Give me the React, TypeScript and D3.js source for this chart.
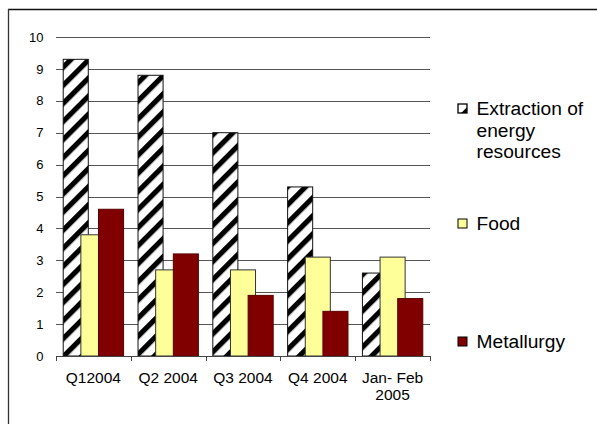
import React from "react";
import * as d3 from "d3";

// Chart data
const categories = ["Q12004", "Q2 2004", "Q3 2004", "Q4 2004", "Jan- Feb\n2005"];
const seriesNames = ["Extraction of\nenergy\nresources", "Food", "Metallurgy"];
const extraction = [9.3, 8.8, 7.0, 5.3, 2.6];
const food = [3.8, 2.7, 2.7, 3.1, 3.1];
const metallurgy = [4.6, 3.2, 1.9, 1.4, 1.8];
const yTicks = [0, 1, 2, 3, 4, 5, 6, 7, 8, 9, 10];

const W = 597;
const H = 424;
const plot = { left: 56, right: 430, top: 37, bottom: 356 };
const FONT = "'Liberation Sans', Arial, sans-serif";

const yellow = "#FFFF99";
const darkRed = "#800000";

export default function App() {
  const x = d3
    .scaleBand<string>()
    .domain(categories)
    .range([plot.left, plot.right])
    .paddingInner(0)
    .paddingOuter(0);
  const y = d3.scaleLinear().domain([0, 10]).range([plot.bottom, plot.top]);

  const bw = x.bandwidth();
  const barW = bw * 0.335;
  const step = bw * 0.236;
  const groupW = barW + 2 * step;

  const series = [
    { values: extraction, fill: "url(#hatch)", stroke: "#111" },
    { values: food, fill: yellow, stroke: "#333" },
    { values: metallurgy, fill: darkRed, stroke: "#5a0000" },
  ];

  const legendRows = [
    { baseline: 115, fill: "hatch" },
    { baseline: 230, fill: yellow },
    { baseline: 348, fill: darkRed },
  ];

  return (
    <svg
      width={W}
      height={H}
      style={{ position: "absolute", left: 0, top: 0, background: "#fff" }}
      fontFamily={FONT}
    >
      <defs>
        <pattern
          id="hatch"
          patternUnits="userSpaceOnUse"
          width={12.8}
          height={12.8}
          patternTransform="rotate(45)"
        >
          <rect width={12.8} height={12.8} fill="#fff" />
          <rect width={5.2} height={12.8} fill="#000" />
        </pattern>
      </defs>

      {/* outer frame */}
      <line x1={8} y1={9.5} x2={W} y2={9.5} stroke="#111" strokeWidth={1.5} />
      <line x1={8.5} y1={9} x2={8.5} y2={H} stroke="#333" strokeWidth={1.3} />

      {/* gridlines */}
      {yTicks
        .filter((t) => t > 0)
        .map((t) => (
          <line
            key={"g" + t}
            x1={plot.left}
            x2={plot.right}
            y1={Math.round(y(t)) + 0.5}
            y2={Math.round(y(t)) + 0.5}
            stroke="#555"
            strokeWidth={1}
          />
        ))}

      {/* y tick labels */}
      {yTicks.map((t) => (
        <text
          key={"yl" + t}
          x={43.5}
          y={y(t) + 4.6}
          textAnchor="end"
          fontSize={13}
          fill="#000"
        >
          {t}
        </text>
      ))}

      {/* bars */}
      {series.map((s, si) =>
        categories.map((c, ci) => {
          const cx = (x(c) as number) + bw / 2;
          const bx = cx - groupW / 2 + si * step;
          const top = y(s.values[ci]);
          return (
            <rect
              key={`b${si}-${ci}`}
              x={bx}
              y={top}
              width={barW}
              height={y(0) - top}
              fill={s.fill}
              stroke={s.stroke}
              strokeWidth={1}
            />
          );
        })
      )}

      {/* x axis */}
      <line
        x1={plot.left}
        x2={plot.right}
        y1={plot.bottom + 0.5}
        y2={plot.bottom + 0.5}
        stroke="#444"
        strokeWidth={1}
      />
      {[...categories.map((c) => x(c) as number), plot.right].map((px, i) => (
        <line
          key={"t" + i}
          x1={Math.round(px) + 0.5}
          x2={Math.round(px) + 0.5}
          y1={plot.bottom}
          y2={plot.bottom + 5}
          stroke="#444"
          strokeWidth={1}
        />
      ))}

      {/* x labels */}
      {categories.map((c) => {
        const cx = (x(c) as number) + bw / 2;
        return (
          <text key={"xl" + c} textAnchor="middle" fontSize={15.5} fill="#000">
            {c.split("\n").map((line, li) => (
              <tspan key={li} x={cx} y={382.5 + li * 17.5}>
                {line}
              </tspan>
            ))}
          </text>
        );
      })}

      {/* legend */}
      {legendRows.map((r, i) => {
        const mx = 458;
        const my = r.baseline - 11;
        const ms = 9;
        return (
          <g key={"lg" + i}>
            {r.fill === "hatch" ? (
              <g>
                <rect x={mx} y={my} width={ms} height={ms} fill="#fff" stroke="#000" strokeWidth={1.3} />
                <polygon
                  points={`${mx + ms},${my + ms * 0.35} ${mx + ms},${my + ms} ${mx + ms * 0.35},${my + ms}`}
                  fill="#000"
                />
              </g>
            ) : (
              <rect x={mx} y={my} width={ms} height={ms} fill={r.fill} stroke="#000" strokeWidth={1} />
            )}
            <text fontSize={19.2} fill="#000">
              {seriesNames[i].split("\n").map((line, li) => (
                <tspan key={li} x={476.5} y={r.baseline + li * 21.5}>
                  {line}
                </tspan>
              ))}
            </text>
          </g>
        );
      })}
    </svg>
  );
}
